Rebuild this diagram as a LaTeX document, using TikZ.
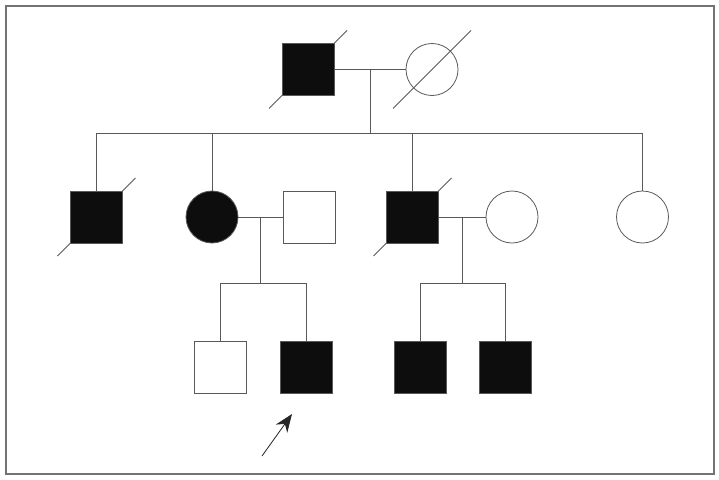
\documentclass[tikz,border=0pt]{standalone}
\usepackage{tikz}
\usetikzlibrary{arrows.meta,calc,backgrounds}

\tikzset{
  pedline/.style={draw=black!65,line width=0.8pt},
  male/.style={rectangle,pedline,minimum size=52pt,inner sep=0pt,fill=white},
  female/.style={circle,pedline,minimum size=52pt,inner sep=0pt},
  affected/.style={fill=black!95},
}

\begin{document}
\begin{tikzpicture}[x=1pt,y=-1pt]
    \useasboundingbox (0,0) rectangle (719,479);
    \draw[draw=black!55,line width=1.4pt] (6,6) rectangle (714,474);
    % generation I
    \node[male,affected] (gf) at (308,69.5) {};
    \node[female] (gm) at (432,69.5) {};
    % generation II
    \node[male,affected] (u1) at (96.5,217) {};
    \node[female,affected] (m1) at (212,217) {};
    \node[male] (h1) at (309.5,217) {};
    \node[male,affected] (u2) at (412.5,217) {};
    \node[female] (w2) at (512,217) {};
    \node[female] (a2) at (642.5,217) {};
    % generation III
    \node[male] (b1) at (220.5,367) {};
    \node[male,affected] (pb) at (306,367) {};
    \node[male,affected] (c1) at (420,367) {};
    \node[male,affected] (c2) at (505.5,367) {};

    % grandparents and their children
    \draw[pedline] (gf.east) -- (gm.west);
    \coordinate (k1) at ($(gf.east)!0.5!(gm.west)$);
    \coordinate (s1) at ($(k1)+(0,63.5)$);
    \draw[pedline] (k1) -- (s1);
    \draw[pedline] (u1.north) -- (u1.north |- s1) -- (a2.north |- s1) -- (a2.north);
    \foreach \n in {m1,u2} {
      \draw[pedline] (\n.north) -- (\n.north |- s1);
    }
    % first couple
    \draw[pedline] (m1.east) -- (h1.west);
    \coordinate (k2) at ($(m1.east)!0.5!(h1.west)$);
    \coordinate (s2) at ($(k2)+(0,66)$);
    \draw[pedline] (k2) -- (s2);
    \draw[pedline] (b1.north) -- (b1.north |- s2) -- (pb.north |- s2) -- (pb.north);
    % second couple
    \draw[pedline] (u2.east) -- (w2.west);
    \coordinate (k3) at ($(u2.east)!0.5!(w2.west)$);
    \coordinate (s3) at ($(k3)+(0,66)$);
    \draw[pedline] (k3) -- (s3);
    \draw[pedline] (c1.north) -- (c1.north |- s3) -- (c2.north |- s3) -- (c2.north);

    % deceased (behind the filled symbols)
    \begin{scope}[on background layer]
      \foreach \n in {gf,gm,u1,u2} {
        \draw[pedline] ($(\n.center)+(-39,39)$) -- ($(\n.center)+(39,-39)$);
      }
    \end{scope}
    % proband
    \coordinate (atail) at (262,456);
    \coordinate (ahead) at (292,414);
    \draw[pedline,draw=black!85,-{Stealth[length=18pt,width=14pt]}] (atail) -- (ahead);
\end{tikzpicture}
\end{document}
